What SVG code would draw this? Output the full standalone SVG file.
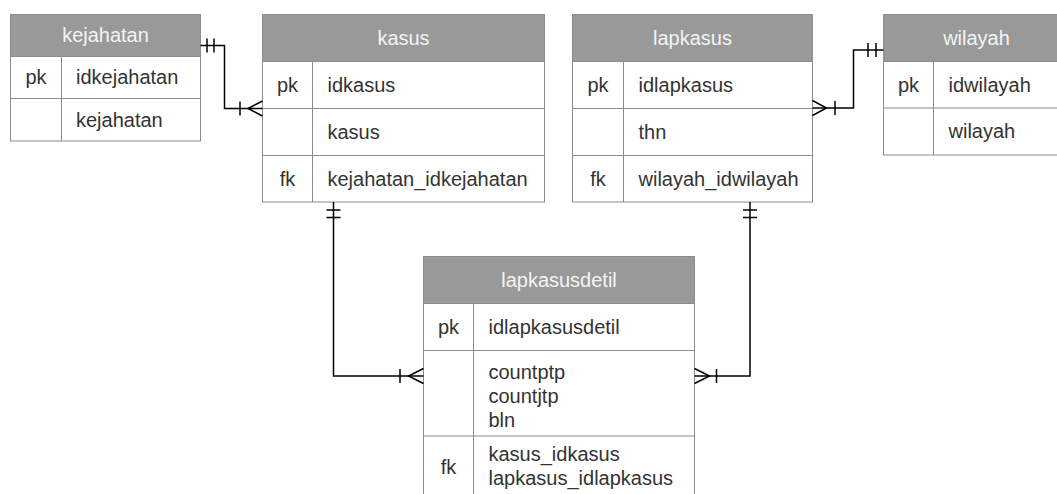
<svg xmlns="http://www.w3.org/2000/svg" width="1057" height="494" viewBox="0 0 1057 494">
  <style>
    .box { fill: #ffffff; stroke: #8c8c8c; stroke-width: 1; }
    .head { fill: #999999; stroke: #8c8c8c; stroke-width: 1; }
    .sep { stroke: #8c8c8c; stroke-width: 1; fill: none; }
    .title { font-family: "Liberation Sans", Arial, sans-serif; font-size: 20px; fill: #f4f4f4; text-anchor: middle; }
    .key { font-family: "Liberation Sans", Arial, sans-serif; font-size: 20px; fill: #333333; text-anchor: middle; }
    .val { font-family: "Liberation Sans", Arial, sans-serif; font-size: 20px; fill: #333333; }
    .rel { fill: none; stroke: #000000; stroke-width: 1.5; }
  </style>

  <rect width="1057" height="494" fill="#ffffff"/>

  <!-- entity: kejahatan -->
  <g id="kejahatan">
    <rect class="box" x="10.5" y="14.5" width="190" height="126.5"/>
    <rect class="head" x="10.5" y="14.5" width="190" height="42"/>
    <path class="sep" d="M10.5 98.5 H200.5 M61.5 56.5 V141"/>
    <text class="title" x="105.5" y="42">kejahatan</text>
    <text class="key" x="36" y="84">pk</text>
    <text class="val" x="76" y="84">idkejahatan</text>
    <text class="val" x="76" y="127">kejahatan</text>
  </g>

  <!-- entity: kasus -->
  <g id="kasus">
    <rect class="box" x="262.5" y="14.5" width="282" height="187.5"/>
    <rect class="head" x="262.5" y="14.5" width="282" height="47"/>
    <path class="sep" d="M262.5 108.5 H544.5 M262.5 155.5 H544.5 M312.5 61.5 V202"/>
    <text class="title" x="403.5" y="44.5">kasus</text>
    <text class="key" x="287.5" y="91.5">pk</text>
    <text class="val" x="327.5" y="91.5">idkasus</text>
    <text class="val" x="327.5" y="138.5">kasus</text>
    <text class="key" x="287.5" y="185.5">fk</text>
    <text class="val" x="327.5" y="185.5">kejahatan_idkejahatan</text>
  </g>

  <!-- entity: lapkasus -->
  <g id="lapkasus">
    <rect class="box" x="572.5" y="14.5" width="240" height="187.5"/>
    <rect class="head" x="572.5" y="14.5" width="240" height="47"/>
    <path class="sep" d="M572.5 108.5 H812.5 M572.5 155.5 H812.5 M623.5 61.5 V202"/>
    <text class="title" x="692.5" y="44.5">lapkasus</text>
    <text class="key" x="598" y="91.5">pk</text>
    <text class="val" x="638.5" y="91.5">idlapkasus</text>
    <text class="val" x="638.5" y="138.5">thn</text>
    <text class="key" x="598" y="185.5">fk</text>
    <text class="val" x="638.5" y="185.5">wilayah_idwilayah</text>
  </g>

  <!-- entity: wilayah -->
  <g id="wilayah">
    <rect class="box" x="883.5" y="14.5" width="186" height="140.5"/>
    <rect class="head" x="883.5" y="14.5" width="186" height="47"/>
    <path class="sep" d="M883.5 108 H1069.5 M933.5 61.5 V155"/>
    <text class="title" x="976.5" y="44.5">wilayah</text>
    <text class="key" x="908.5" y="91.5">pk</text>
    <text class="val" x="948.5" y="91.5">idwilayah</text>
    <text class="val" x="948.5" y="138">wilayah</text>
  </g>

  <!-- entity: lapkasusdetil -->
  <g id="lapkasusdetil">
    <rect class="box" x="423.5" y="256.5" width="271" height="242"/>
    <rect class="head" x="423.5" y="256.5" width="271" height="47"/>
    <path class="sep" d="M423.5 350.5 H694.5 M423.5 436 H694.5 M473.5 303.5 V498.5"/>
    <text class="title" x="559" y="286.5">lapkasusdetil</text>
    <text class="key" x="448.5" y="334">pk</text>
    <text class="val" x="488.5" y="334">idlapkasusdetil</text>
    <text class="val" x="488.5" y="378.5">countptp</text>
    <text class="val" x="488.5" y="402.5">countjtp</text>
    <text class="val" x="488.5" y="426.5">bln</text>
    <text class="key" x="448.5" y="474">fk</text>
    <text class="val" x="488.5" y="461">kasus_idkasus</text>
    <text class="val" x="488.5" y="485">lapkasus_idlapkasus</text>
  </g>

  <!-- relationships (one-mandatory to one-or-many) -->
  <g id="connectors">
    <!-- kejahatan to kasus -->
    <path class="rel" d="M200.5 45.5 H224.5 V108.5 H262.5"/>
    <path class="rel" d="M207 38.5 V52.5 M214 38.5 V52.5"/>
    <path class="rel" d="M240 101.5 V115.5 M262.5 101 L248 108.5 L262.5 116"/>

    <!-- wilayah to lapkasus -->
    <path class="rel" d="M812.5 108 H853.5 V50 H883.5"/>
    <path class="rel" d="M868 43 V57 M876 43 V57"/>
    <path class="rel" d="M835 101 V115 M812.5 100.5 L826.5 108 L812.5 115.5"/>

    <!-- kasus to lapkasusdetil -->
    <path class="rel" d="M333.5 202 V376 H423.5"/>
    <path class="rel" d="M326.5 210 H340.5 M326.5 217.5 H340.5"/>
    <path class="rel" d="M400 369 V383 M423.5 368.5 L408.5 376 L423.5 383.5"/>

    <!-- lapkasus to lapkasusdetil -->
    <path class="rel" d="M750 202 V376 H694.5"/>
    <path class="rel" d="M743 210 H757 M743 217.5 H757"/>
    <path class="rel" d="M716.5 369 V383 M694.5 368.5 L709.5 376 L694.5 383.5"/>
  </g>
</svg>
